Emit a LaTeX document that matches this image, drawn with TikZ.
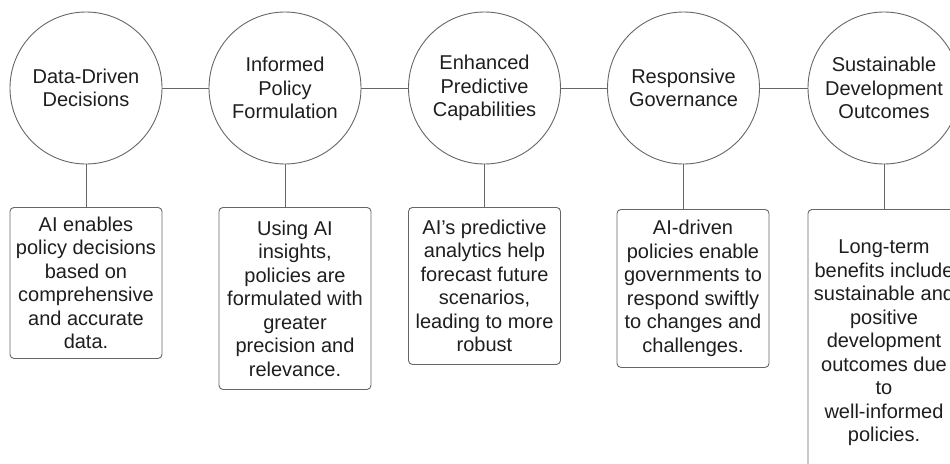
\documentclass[tikz,border=0pt]{standalone}
\usepackage{fontspec}
\setmainfont{Liberation Sans}
\definecolor{linegray}{HTML}{666666}
\definecolor{inkgray}{HTML}{1E1E1E}
\begin{document}
\begin{tikzpicture}[x=1pt,y=-1pt,
  stage/.style={circle,draw=linegray,line width=0.9pt,minimum size=152pt,inner sep=0pt,
    align=center,text=inkgray,font=\fontsize{20}{23.5}\selectfont},
  detail/.style={draw=linegray,line width=0.9pt,rounded corners=4pt,minimum width=152pt,
    inner sep=0pt,anchor=north,align=center,text=inkgray,font=\fontsize{20}{23.5}\selectfont},
  link/.style={draw=linegray,line width=0.9pt}]
\useasboundingbox (0,0) rectangle (950,463);
\clip (0,0) rectangle (950,463);

% stages along the top row
\node[stage] (c1) at (86,88) {Data-Driven\\Decisions};
\node[stage] (c2) at (285,88) {Informed\\Policy\\Formulation};
\node[stage] (c3) at (484.5,88) {Enhanced\\Predictive\\Capabilities};
\node[stage] (c4) at (683.5,88) {Responsive\\Governance};
\node[stage] (c5) at (884,88) {Sustainable\\Development\\Outcomes};

% descriptions below each stage
\node[detail,minimum height=151pt] (b1) at (86,207)
  {AI enables\\policy decisions\\based on\\comprehensive\\and accurate\\data.};
\node[detail,minimum height=182pt] (b2) at (295,207)
  {Using AI\\insights,\\policies are\\formulated with\\greater\\precision and\\relevance.};
\node[detail,minimum height=157pt] (b3) at (484.5,207)
  {AI\symbol{"27}s predictive\\analytics help\\forecast future\\scenarios,\\leading to more\\robust};
\node[detail,minimum height=158pt] (b4) at (693,209)
  {AI-driven\\policies enable\\governments to\\respond swiftly\\to changes and\\challenges.};
\node[detail,minimum height=267pt] (b5) at (884,209)
  {Long-term\\benefits include\\sustainable and\\positive\\development\\outcomes due\\to\\well-informed\\policies.};

% timeline links
\draw[link] (c1.east) -- (c2.west);
\draw[link] (c2.east) -- (c3.west);
\draw[link] (c3.east) -- (c4.west);
\draw[link] (c4.east) -- (c5.west);

% drops from each stage to its description
\draw[link] (c1.south) -- (c1.south |- b1.north);
\draw[link] (c2.south) -- (c2.south |- b2.north);
\draw[link] (c3.south) -- (c3.south |- b3.north);
\draw[link] (c4.south) -- (c4.south |- b4.north);
\draw[link] (c5.south) -- (c5.south |- b5.north);
\end{tikzpicture}
\end{document}
